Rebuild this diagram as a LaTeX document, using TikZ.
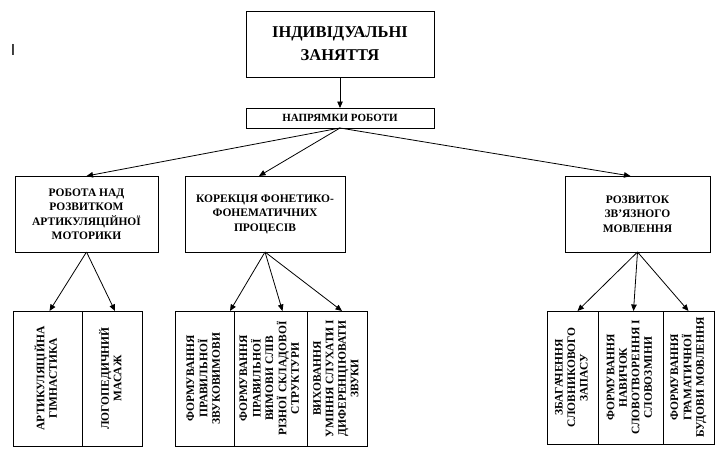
\documentclass[tikz,border=0pt]{standalone}
\usepackage{fontspec}
\setmainfont{Liberation Serif}
\newfontfamily\markfont{Liberation Sans}
\usepackage{graphicx}
\usetikzlibrary{arrows.meta, positioning}
\newcommand{\vtext}[1]{\rotatebox{90}{\begin{tabular}{@{}c@{}}#1\end{tabular}}}

\begin{document}
\begin{tikzpicture}[
  x=1pt, y=1pt,
  box/.style={draw, line width=0.9pt, align=center, inner sep=0pt, outer sep=0pt},
  head/.style={box, minimum width=188pt, font=\fontsize{16.5}{23}\selectfont\bfseries},
  area/.style={box, minimum height=76pt, font=\fontsize{11.5}{14.5}\selectfont\bfseries},
  cell/.style={box, minimum height=135pt, font=\fontsize{11.5}{12.5}\selectfont\bfseries},
  arr/.style={-{Triangle[length=6.5pt, width=5.5pt]}, line width=0.8pt},
  node distance=0pt,
]
\useasboundingbox (0,0) rectangle (717,-453);
\node[font=\markfont\fontsize{16}{16}\selectfont, inner sep=0pt] (mark) at (13,-50) {I};

% top of the tree
\node[head, minimum height=66pt] (top) at (340,-44) {ІНДИВІДУАЛЬНІ\\ЗАНЯТТЯ};
\node[box, minimum width=188pt, minimum height=20pt, below=31pt of top,
      font=\fontsize{11}{12}\selectfont\bfseries] (napr) {НАПРЯМКИ РОБОТИ};

% directions
\node[area, minimum width=143pt] (rob) at (86.5,-214) {РОБОТА НАД\\РОЗВИТКОМ\\АРТИКУЛЯЦІЙНОЇ\\МОТОРИКИ};
\node[area, minimum width=160pt] (kor) at (265,-214) {КОРЕКЦІЯ ФОНЕТИКО-\\ФОНЕМАТИЧНИХ\\ПРОЦЕСІВ};
\node[area, minimum width=145pt] (rozv) at (637.5,-214) {РОЗВИТОК\\ЗВ’ЯЗНОГО\\МОВЛЕННЯ};

% tasks
\node[cell, minimum width=69pt] (art) at (47.5,-378.5) {\vtext{АРТИКУЛЯЦІЙНА\\ГІМНАСТИКА}};
\node[cell, minimum width=60pt, right=of art] (mas) {\vtext{ЛОГОПЕДИЧНИЙ\\МАСАЖ}};

\node[cell, minimum width=59pt] (zv) at (204.5,-378.5) {\vtext{ФОРМУВАННЯ\\ПРАВИЛЬНОЇ\\ЗВУКОВИМОВИ}};
\node[cell, minimum width=73pt, right=of zv] (sl) {\vtext{ФОРМУВАННЯ\\ПРАВИЛЬНОЇ\\ВИМОВИ СЛІВ\\РІЗНОЇ СКЛАДОВОЇ\\СТРУКТУРИ}};
\node[cell, minimum width=60pt, right=of sl] (sluh) {\vtext{ВИХОВАННЯ\\УМІННЯ СЛУХАТИ І\\ДИФЕРЕНЦІЮВАТИ\\ЗВУКИ}};

\node[cell, minimum height=133pt, minimum width=51pt] (zb) at (572.5,-377.5) {\vtext{ЗБАГАЧЕННЯ\\СЛОВНИКОВОГО\\ЗАПАСУ}};
\node[cell, minimum height=133pt, minimum width=65pt, right=of zb] (nav) {\vtext{ФОРМУВАННЯ\\НАВИЧОК\\СЛОВОТВОРЕННЯ І\\СЛОВОЗМІНИ}};
\node[cell, minimum height=133pt, minimum width=51pt, right=of nav] (gram) {\vtext{ФОРМУВАННЯ\\ГРАМАТИЧНОЇ\\БУДОВИ МОВЛЕННЯ}};

% arrows
\draw[arr] (top) -- (napr);
\draw[arr] (napr.south) -- (rob.north);
\draw[arr] (napr.south) -- ([xshift=-6pt]kor.north);
\draw[arr] (napr.south) -- ([xshift=-7pt]rozv.north);
\draw[arr] (rob.south) -- ([xshift=2pt]art.north);
\draw[arr] (rob.south) -- ([xshift=3pt]mas.north);
\draw[arr] (kor.south) -- ([xshift=-4pt]zv.north east);
\draw[arr] (kor.south) -- ([xshift=12pt]sl.north);
\draw[arr] (kor.south) -- ([xshift=5pt]sluh.north);
\draw[arr] (rozv.south) -- ([xshift=5pt]zb.north);
\draw[arr] (rozv.south) -- ([xshift=3pt]nav.north);
\draw[arr] (rozv.south) -- (gram.north);
\end{tikzpicture}
\end{document}
